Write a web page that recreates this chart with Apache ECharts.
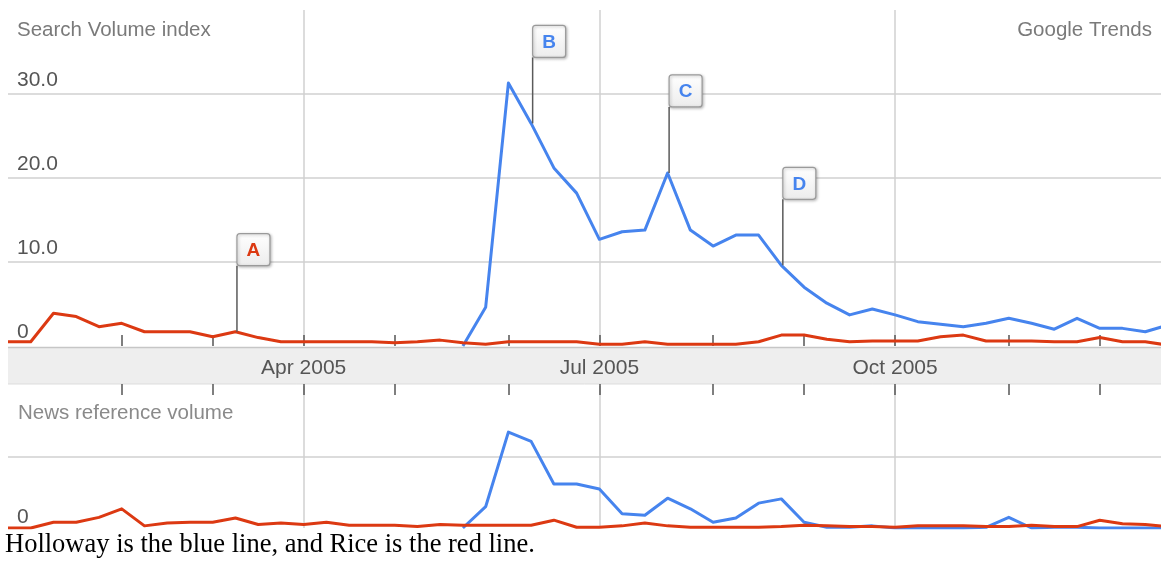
<!DOCTYPE html>
<html>
<head>
<meta charset="utf-8">
<title>Holloway vs Rice – Search Volume index</title>
<script src="https://cdn.jsdelivr.net/npm/echarts@6/dist/echarts.min.js"></script>
<style>
  html, body { margin: 0; padding: 0; background: #ffffff; }
  #chart { width: 1161px; height: 561px; }
</style>
</head>
<body>
<div id="chart"></div>
<script>
// One point per week (week starting on Sunday), 2005
const weeks = [
  '2005-01-02', '2005-01-09', '2005-01-16', '2005-01-23', '2005-01-30',
  '2005-02-06', '2005-02-13', '2005-02-20', '2005-02-27',
  '2005-03-06', '2005-03-13', '2005-03-20', '2005-03-27',
  '2005-04-03', '2005-04-10', '2005-04-17', '2005-04-24',
  '2005-05-01', '2005-05-08', '2005-05-15', '2005-05-22', '2005-05-29',
  '2005-06-05', '2005-06-12', '2005-06-19', '2005-06-26',
  '2005-07-03', '2005-07-10', '2005-07-17', '2005-07-24', '2005-07-31',
  '2005-08-07', '2005-08-14', '2005-08-21', '2005-08-28',
  '2005-09-04', '2005-09-11', '2005-09-18', '2005-09-25',
  '2005-10-02', '2005-10-09', '2005-10-16', '2005-10-23', '2005-10-30',
  '2005-11-06', '2005-11-13', '2005-11-20', '2005-11-27',
  '2005-12-04', '2005-12-11', '2005-12-18', '2005-12-25'
];

// Search Volume index
const hollowaySearch = [
  null, null, null, null, null, null, null, null, null, null,
  null, null, null, null, null, null, null, null, null, null,
  0, 4.6, 31.3, 26.5, 21.2, 18.2, 12.7, 13.6, 13.8, 20.6,
  13.8, 11.9, 13.2, 13.2, 9.6, 7.0, 5.1, 3.7, 4.4, 3.7,
  2.9, 2.6, 2.3, 2.7, 3.3, 2.7, 2.0, 3.3, 2.1, 2.1,
  1.7, 2.5
];
const riceSearch = [
  0.5, 0.5, 3.9, 3.5, 2.3, 2.7, 1.7, 1.7, 1.7, 1.1,
  1.7, 1.0, 0.5, 0.5, 0.5, 0.5, 0.5, 0.4, 0.5, 0.7,
  0.4, 0.2, 0.5, 0.5, 0.5, 0.5, 0.2, 0.2, 0.5, 0.2,
  0.2, 0.2, 0.2, 0.5, 1.3, 1.3, 0.8, 0.5, 0.6, 0.6,
  0.6, 1.1, 1.3, 0.6, 0.6, 0.6, 0.5, 0.5, 1.0, 0.5,
  0.5, 0.1
];

// News reference volume
const hollowayNews = [
  null, null, null, null, null, null, null, null, null, null,
  null, null, null, null, null, null, null, null, null, null,
  0, 0.3, 1.35, 1.22, 0.62, 0.62, 0.55, 0.2, 0.18, 0.42,
  0.27, 0.08, 0.14, 0.35, 0.41, 0.08, 0.01, 0.01, 0.03, 0.0,
  0.0, 0.0, 0.0, 0.01, 0.15, 0.0, 0.01, 0.01, 0.0, 0.0,
  0.0, 0.0
];
const riceNews = [
  0, 0, 0.08, 0.08, 0.15, 0.27, 0.03, 0.07, 0.08, 0.08,
  0.14, 0.05, 0.07, 0.05, 0.08, 0.04, 0.04, 0.04, 0.02, 0.05,
  0.04, 0.04, 0.04, 0.04, 0.11, 0.01, 0.01, 0.03, 0.07, 0.03,
  0.01, 0.01, 0.01, 0.01, 0.02, 0.04, 0.03, 0.02, 0.02, 0.01,
  0.03, 0.03, 0.03, 0.02, 0.02, 0.04, 0.02, 0.02, 0.11, 0.06,
  0.05, 0.02
];

// Axis text
const searchTickLabels = ['0', '10.0', '20.0', '30.0'];
const newsTickLabels = ['0'];
const monthNames = ['Jan', 'Feb', 'Mar', 'Apr', 'May', 'Jun', 'Jul', 'Aug', 'Sep', 'Oct', 'Nov', 'Dec'];

// News event flags: letter, week index, which search series it sits on
const flags = [
  { letter: 'A', week: 10, series: 'rice' },
  { letter: 'B', week: 23, series: 'holloway' },
  { letter: 'C', week: 29, series: 'holloway' },
  { letter: 'D', week: 34, series: 'holloway' }
];

const BLUE = '#4684ee';
const RED = '#dc3912';
const SANS = '"Liberation Sans", Arial, Helvetica, sans-serif';
const SERIF = '"Liberation Serif", "Times New Roman", serif';

const monthOf = i => +weeks[i].slice(5, 7);
const isMonthStart = i => i > 0 && monthOf(i) !== monthOf(i - 1);
const isQuarterStart = i => isMonthStart(i) && (monthOf(i) - 1) % 3 === 0;

const searchBySeries = { holloway: hollowaySearch, rice: riceSearch };
const colorBySeries = { holloway: BLUE, rice: RED };
const flagData = flags.map(f => [f.week, searchBySeries[f.series][f.week]]);

const chart = echarts.init(document.getElementById('chart'), null, { renderer: 'canvas' });

const gridLine = { show: true, lineStyle: { color: '#d0d0d0', width: 1.5 } };

const option = {
  animation: false,
  backgroundColor: '#ffffff',
  grid: [
    // the last week runs a little past the right edge and is cut off there
    { left: 8, top: 10, width: 1160, height: 336, outerBoundsMode: 'none', containLabel: false },
    { left: 8, top: 386, width: 1160, height: 142, outerBoundsMode: 'none', containLabel: false }
  ],
  xAxis: [
    {
      type: 'category', gridIndex: 0, data: weeks, boundaryGap: false,
      position: 'bottom',
      axisLine: { show: false, onZero: false },
      axisTick: {
        show: true, inside: true, length: 11,
        interval: (i) => isMonthStart(i),
        lineStyle: { color: '#555', width: 1.5 }
      },
      axisLabel: {
        show: true, margin: 12,
        interval: (i) => isQuarterStart(i),
        formatter: (v) => monthNames[+v.slice(5, 7) - 1] + ' ' + v.slice(0, 4),
        color: '#555', fontFamily: SANS, fontSize: 21, lineHeight: 21
      },
      splitLine: Object.assign({ interval: (i) => isQuarterStart(i) }, gridLine)
    },
    {
      type: 'category', gridIndex: 1, data: weeks, boundaryGap: false,
      position: 'top', offset: 2,
      axisLine: { show: false, onZero: false },
      axisTick: {
        show: true, inside: true, length: 11,
        interval: (i) => isMonthStart(i),
        lineStyle: { color: '#555', width: 1.5 }
      },
      axisLabel: { show: false },
      splitLine: Object.assign({ interval: (i) => isQuarterStart(i) }, gridLine)
    }
  ],
  yAxis: [
    {
      type: 'value', gridIndex: 0, min: 0, max: 40, interval: 10,
      axisLine: { show: false }, axisTick: { show: false },
      axisLabel: {
        inside: true, margin: 9, align: 'left', verticalAlign: 'bottom',
        padding: [0, 0, 3, 0],
        formatter: (v) => searchTickLabels[v / 10] || '',
        color: '#555', fontFamily: SANS, fontSize: 21, lineHeight: 21
      },
      splitLine: Object.assign({ showMinLine: false, showMaxLine: false }, gridLine)
    },
    {
      type: 'value', gridIndex: 1, min: 0, max: 2, interval: 1,
      axisLine: { show: false }, axisTick: { show: false },
      axisLabel: {
        inside: true, margin: 9, align: 'left', verticalAlign: 'bottom',
        padding: [0, 0, 0, 0],
        formatter: (v) => newsTickLabels[v] || '',
        color: '#555', fontFamily: SANS, fontSize: 21, lineHeight: 21
      },
      splitLine: Object.assign({ showMinLine: false, showMaxLine: false }, gridLine)
    }
  ],
  series: [
    {
      name: 'Holloway', type: 'line', xAxisIndex: 0, yAxisIndex: 0, data: hollowaySearch,
      symbol: 'none', z: 2,
      lineStyle: { color: BLUE, width: 3, join: 'round' }, itemStyle: { color: BLUE }
    },
    {
      name: 'Rice', type: 'line', xAxisIndex: 0, yAxisIndex: 0, data: riceSearch,
      symbol: 'none', z: 3,
      lineStyle: { color: RED, width: 3, join: 'round' }, itemStyle: { color: RED }
    },
    {
      name: 'Holloway news', type: 'line', xAxisIndex: 1, yAxisIndex: 1, data: hollowayNews,
      symbol: 'none', z: 2,
      lineStyle: { color: BLUE, width: 3, join: 'round' }, itemStyle: { color: BLUE }
    },
    {
      name: 'Rice news', type: 'line', xAxisIndex: 1, yAxisIndex: 1, data: riceNews,
      symbol: 'none', z: 3,
      lineStyle: { color: RED, width: 3, join: 'round' }, itemStyle: { color: RED }
    },
    {
      name: 'Flags', type: 'custom', xAxisIndex: 0, yAxisIndex: 0, data: flagData,
      z: 10, silent: true, clip: false,
      renderItem: (params, api) => {
        const f = flags[params.dataIndex];
        const p = api.coord([api.value(0), api.value(1)]);
        const x = p[0] + 1.5;
        const poleTop = p[1] - 66;
        const boxW = 33, boxH = 32;
        return {
          type: 'group',
          children: [
            {
              type: 'line',
              shape: { x1: x, y1: p[1], x2: x, y2: poleTop },
              style: { stroke: '#5a5a5a', lineWidth: 1.5 }
            },
            {
              type: 'rect',
              shape: { x: x, y: poleTop - boxH, width: boxW, height: boxH, r: 3 },
              style: {
                fill: new echarts.graphic.LinearGradient(0, 0, 0, 1, [
                  { offset: 0, color: '#ffffff' },
                  { offset: 1, color: '#ececec' }
                ]),
                stroke: '#9a9a9a', lineWidth: 1.2,
                shadowBlur: 3, shadowColor: 'rgba(0,0,0,0.25)', shadowOffsetX: 1, shadowOffsetY: 1
              }
            },
            {
              type: 'text',
              style: {
                text: f.letter,
                x: x + boxW / 2, y: poleTop - boxH / 2 + 1,
                textAlign: 'center', textVerticalAlign: 'middle',
                fill: colorBySeries[f.series],
                font: 'bold 19px ' + SANS
              }
            }
          ]
        };
      }
    }
  ],
  graphic: [
    // date band between the two panels
    {
      type: 'rect', z: -1, silent: true,
      shape: { x: 8, y: 347, width: 1153, height: 37 },
      style: { fill: '#eeeeee' }
    },
    {
      type: 'line', z: -1, silent: true,
      shape: { x1: 8, y1: 347.5, x2: 1161, y2: 347.5 },
      style: { stroke: '#c6c6c6', lineWidth: 1.5 }
    },
    {
      type: 'line', z: -1, silent: true,
      shape: { x1: 8, y1: 384, x2: 1161, y2: 384 },
      style: { stroke: '#dddddd', lineWidth: 1 }
    },
    {
      type: 'text', silent: true,
      style: {
        text: 'Search Volume index', x: 17, y: 30,
        textVerticalAlign: 'middle', fill: '#7a7a7a', font: '20.5px ' + SANS
      }
    },
    {
      type: 'text', silent: true,
      style: {
        text: 'Google Trends', x: 1152, y: 30,
        textAlign: 'right', textVerticalAlign: 'middle', fill: '#7a7a7a', font: '20.5px ' + SANS
      }
    },
    {
      type: 'text', silent: true,
      style: {
        text: 'News reference volume', x: 18, y: 413,
        textVerticalAlign: 'middle', fill: '#8a8a8a', font: '20.5px ' + SANS
      }
    },
    {
      type: 'text', silent: true,
      style: {
        text: 'Holloway is the blue line, and Rice is the red line.', x: 5, y: 545,
        textVerticalAlign: 'middle', fill: '#000000', font: '26.5px ' + SERIF
      }
    }
  ]
};

chart.setOption(option);
</script>
</body>
</html>
